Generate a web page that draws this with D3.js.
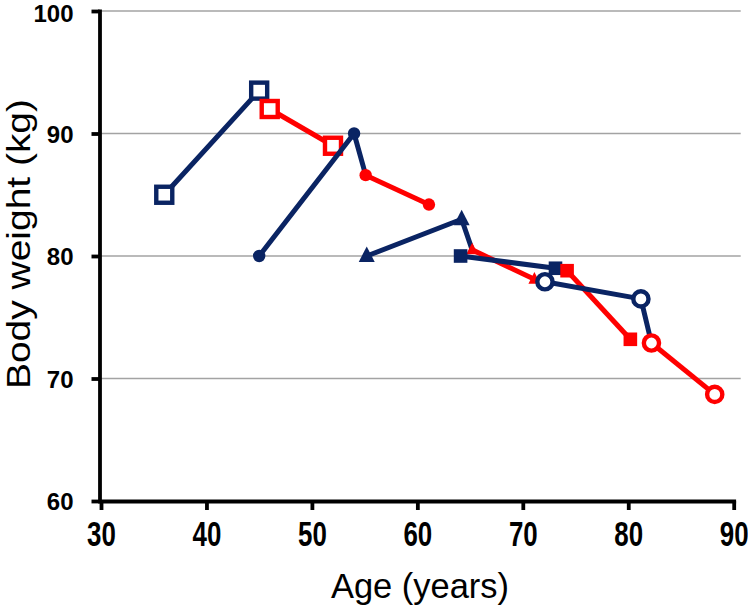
<!DOCTYPE html>
<html>
<head>
<meta charset="utf-8">
<script src="https://cdn.jsdelivr.net/npm/d3@7"></script>
<style>
  html, body { margin: 0; padding: 0; background: #fff; }
  svg { display: block; }
</style>
</head>
<body>
<svg id="chart" width="748" height="612"></svg>
<script>
// ---- data ----
const xTicks = [30, 40, 50, 60, 70, 80, 90];
const yTicks = [60, 70, 80, 90, 100];
const markerTypes = ["openSquare", "filledCircle", "triangle", "filledSquare", "openCircle"];
// navy series: two measured points, then a connector to the first point of the matching red series
const navyAges    = [[36, 45, 46], [45, 54, 55.1], [55.2, 64.2, 65.2], [64.1, 73.1, 74.2], [72.1, 81.2, 82.2]];
const navyWeights = [[85, 93.5, 92], [80, 90, 86.6], [80, 83, 80.5], [80, 79, 78.8], [77.9, 76.5, 72.9]];
const redAges     = [[46, 52], [55.1, 61.1], [65.2, 71.1], [74.2, 80.2], [82.2, 88.2]];
const redWeights  = [[92, 89], [86.6, 84.2], [80.5, 78.1], [78.8, 73.2], [72.9, 68.7]];

const NAVY = "#0a2463";
const RED = "#ff0000";

const svg = d3.select("#chart");
const x = d3.scaleLinear().domain([30, 90]).range([101, 733.7]);
const y = d3.scaleLinear().domain([60, 100]).range([501, 11]);

// gridlines
svg.append("g").selectAll("line").data(yTicks.filter(d => d > 60)).join("line")
  .attr("x1", x(30)).attr("x2", x(90) + 7)
  .attr("y1", d => y(d)).attr("y2", d => y(d))
  .attr("stroke", "#a3a3a3").attr("stroke-width", 1.6);

// axes
const yAxis = svg.append("g").attr("transform", `translate(${x(30) - 1.5},0)`)
  .call(d3.axisLeft(y).tickValues(yTicks).tickSize(8).tickSizeOuter(0).tickPadding(18));
const xAxis = svg.append("g").attr("transform", `translate(0,${y(60)})`)
  .call(d3.axisBottom(x).tickValues(xTicks).tickSize(9).tickSizeOuter(0).tickPadding(12));

[yAxis, xAxis].forEach(a => {
  a.select(".domain").attr("stroke", "#000").attr("stroke-width", 3.8).attr("stroke-linecap", "square");
  a.selectAll(".tick line").attr("stroke", "#000").attr("stroke-width", 3.8);
  a.selectAll(".tick text").attr("fill", "#000")
    .style("font-family", "'Liberation Sans', Arial, sans-serif")
    .style("font-weight", "bold");
});
yAxis.selectAll(".tick text").style("font-size", "24px").attr("dy", d => d === 100 ? "0.42em" : "0.36em");
xAxis.selectAll(".tick text").style("font-size", "35px").attr("dy", "0.68em")
  .attr("transform", "scale(0.74,1)");

// axis titles
svg.append("text")
  .attr("x", 420).attr("y", 598)
  .attr("text-anchor", "middle")
  .style("font-family", "'Liberation Sans', Arial, sans-serif")
  .style("font-size", "35px")
  .attr("textLength", 178).attr("lengthAdjust", "spacingAndGlyphs")
  .text("Age (years)");
svg.append("text")
  .attr("transform", "translate(30,244) rotate(-90)")
  .attr("text-anchor", "middle")
  .style("font-family", "'Liberation Sans', Arial, sans-serif")
  .style("font-size", "34px")
  .attr("textLength", 290).attr("lengthAdjust", "spacingAndGlyphs")
  .text("Body weight (kg)");

// series
const line = d3.line().x(d => x(d[0])).y(d => y(d[1]));

function drawMarker(g, type, color, pts, isRed) {
  const sel = g.selectAll(null).data(pts).join("g")
    .attr("transform", d => `translate(${x(d[0])},${y(d[1])})`);
  if (type === "openSquare") {
    sel.append("rect").attr("x", -8).attr("y", -8).attr("width", 16).attr("height", 16)
      .attr("fill", "#fff").attr("stroke", color).attr("stroke-width", 4.4);
  } else if (type === "filledCircle") {
    sel.append("circle").attr("r", 6.2).attr("fill", color);
  } else if (type === "triangle") {
    const s = isRed ? 12 : 16;
    sel.append("path").attr("d", `M0,${-s * 0.6}L${s / 2},${s * 0.37}L${-s / 2},${s * 0.37}Z`).attr("fill", color);
  } else if (type === "filledSquare") {
    sel.append("rect").attr("x", -6.8).attr("y", -6.8).attr("width", 13.6).attr("height", 13.6).attr("fill", color);
  } else if (type === "openCircle") {
    sel.append("circle").attr("r", 7.6).attr("fill", "#fff").attr("stroke", color).attr("stroke-width", 4.4);
  }
}

markerTypes.forEach((type, i) => {
  const g = svg.append("g");
  const navyPts = navyAges[i].map((a, j) => [a, navyWeights[i][j]]);
  const redPts = redAges[i].map((a, j) => [a, redWeights[i][j]]);
  g.append("path").attr("d", line(navyPts)).attr("fill", "none")
    .attr("stroke", NAVY).attr("stroke-width", 5).attr("stroke-linejoin", "round");
  drawMarker(g, type, NAVY, navyPts.slice(0, 2), false);
  g.append("path").attr("d", line(redPts)).attr("fill", "none")
    .attr("stroke", RED).attr("stroke-width", 5).attr("stroke-linejoin", "round");
  drawMarker(g, type, RED, redPts, true);
});
</script>
</body>
</html>
